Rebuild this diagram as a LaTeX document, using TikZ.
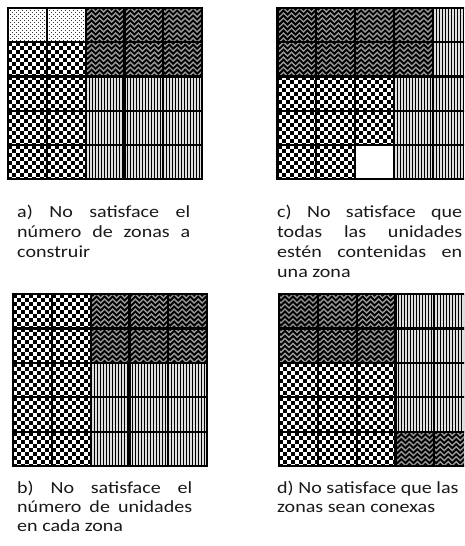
\documentclass[tikz,border=0pt]{standalone}
\usepackage{fontspec}
\newfontfamily\capfont{Carlito}[FakeStretch=1.18]
\tikzset{
  gridline/.style={line width=2.2pt, black},
  border/.style={line width=2.6pt, black},
  zigline/.style={line width=1.35pt, gray!80, line join=miter},
  captxt/.style={anchor=north west, inner sep=0pt, align=left, text=black!90,
    font=\capfont\fontsize{17}{20}\selectfont},
  captxtb/.style={captxt, font=\capfont\fontsize{17}{19}\selectfont}
}
% cell painters: #1 x, #2 y (top left), uses \cw, \ch
\newcommand\paintC[2]{%
  \begin{scope}
    \clip (#1,#2) rectangle ++(\cw,\ch);
    \fill[white] (#1,#2) rectangle ++(\cw,\ch);
    \pgfmathsetmacro\sx{round(#1)}
    \pgfmathsetmacro\sy{round(#2)}
    \foreach \i in {0,...,4}{\foreach \j in {0,...,4}{
      \fill[black] ({\sx+8*\i},{\sy+8*\j}) rectangle ++(4,4);
      \fill[black] ({\sx+8*\i+4},{\sy+8*\j+4}) rectangle ++(4,4);
    }}
  \end{scope}}
\newcommand\paintV[2]{%
  \begin{scope}
    \clip (#1,#2) rectangle ++(\cw,\ch);
    \fill[gray!25] (#1,#2) rectangle ++(\cw,\ch);
    \pgfmathsetmacro\sx{round(#1)}
    \foreach \i in {0,...,13}{
      \fill[black] ({\sx+3*\i},#2) rectangle ++(1.1,\ch);
    }
  \end{scope}}
\newcommand\paintD[2]{%
  \begin{scope}
    \clip (#1,#2) rectangle ++(\cw,\ch);
    \fill[white] (#1,#2) rectangle ++(\cw,\ch);
    \pgfmathsetmacro\sx{round(#1)}
    \pgfmathsetmacro\sy{round(#2)}
    \foreach \i in {0,...,10}{\foreach \j in {0,...,9}{
      \fill[black!80] ({\sx+4*\i},{\sy+4*\j}) rectangle ++(1.3,1.3);
      \fill[black!80] ({\sx+4*\i+2},{\sy+4*\j+2}) rectangle ++(1.3,1.3);
    }}
  \end{scope}}
\newcommand\paintZ[2]{%
  \begin{scope}
    \clip (#1,#2) rectangle ++(\cw,\ch);
    \fill[black] (#1,#2) rectangle ++(\cw,\ch);
    \foreach \j in {0,...,7}{
      \draw[zigline] ({#1-2},{#2+5*\j}) \foreach \i in {0,...,5}{ -- ++(4,4) -- ++(4,-4)};
    }
  \end{scope}}
\newcommand\paintW[2]{\fill[white] (#1,#2) rectangle ++(\cw,\ch);}
\newcommand\cellgrid[5]{% x0, y0, width, height, rows
  \pgfmathsetmacro\cw{#3/5}
  \pgfmathsetmacro\ch{#4/5}
  \foreach \row [count=\r from 0] in {#5} {
    \foreach \cc [count=\k from 0] in \row {
      \pgfmathsetmacro\px{#1+\k*\cw}
      \pgfmathsetmacro\py{#2+\r*\ch}
      \csname paint\cc\endcsname{\px}{\py}
    }
  }
  \foreach \i in {1,...,4} {
    \draw[gridline] ({#1+\i*\cw},#2) -- ++(0,#4);
    \draw[gridline] (#1,{#2+\i*\ch}) -- ++(#3,0);
  }
  \draw[border] (#1,#2) rectangle ++(#3,#4);
}
\begin{document}
\begin{tikzpicture}[x=1pt,y=-1pt]
\useasboundingbox (0,0) rectangle (464,546);
\clip (0,0) rectangle (464,546);
% a
\cellgrid{8}{8}{194}{171}{{D,D,Z,Z,Z},{C,C,Z,Z,Z},{C,C,V,V,V},{C,C,V,V,V},{C,C,V,V,V}}
% c
\cellgrid{277.5}{8}{194}{171}{{Z,Z,Z,Z,V},{Z,Z,Z,Z,V},{C,C,C,V,V},{C,C,C,V,V},{C,C,W,V,V}}
% b
\cellgrid{13}{294}{194}{172}{{C,C,Z,Z,Z},{C,C,Z,Z,Z},{C,C,V,V,V},{C,C,V,V,V},{C,C,V,V,V}}
% d
\cellgrid{279}{294}{194}{172}{{Z,Z,Z,V,V},{Z,Z,Z,V,V},{C,C,C,V,V},{C,C,C,V,V},{C,C,C,Z,Z}}
% captions
\node[captxt] (capA) at (17,205) {\makebox[173pt][s]{a) No satisface el}\\
  \makebox[173pt][s]{número de zonas a}\\construir};
\node[captxt] (capC) at (277,205) {\makebox[185pt][s]{c) No satisface que}\\
  \makebox[185pt][s]{todas las unidades}\\
  \makebox[185pt][s]{estén contenidas en}\\una zona};
\node[captxtb] (capB) at (17,481) {\makebox[175pt][s]{b) No satisface el}\\
  \makebox[175pt][s]{número de unidades}\\en cada zona};
\node[captxtb] (capD) at (277,481) {d) No satisface que las\\zonas sean conexas};
\end{tikzpicture}
\end{document}
